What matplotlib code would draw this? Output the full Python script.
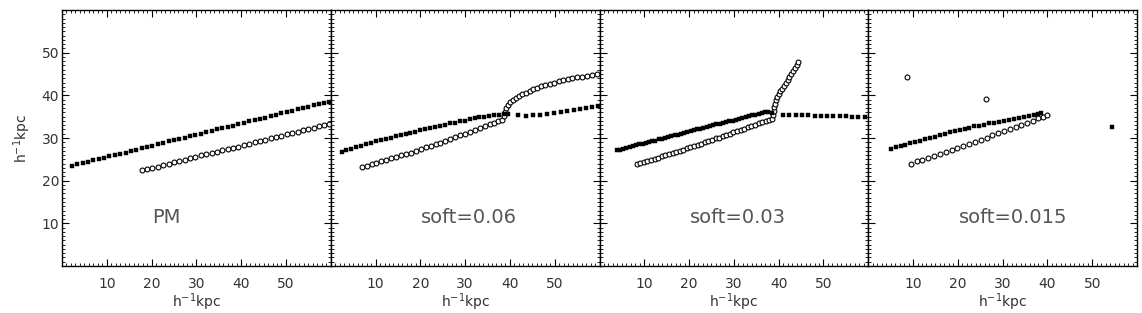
import matplotlib
matplotlib.use("Agg")
import matplotlib.pyplot as plt
from matplotlib.ticker import MultipleLocator, FixedLocator

# ---------------- data ----------------
titles = ["PM", "soft=0.06", "soft=0.03", "soft=0.015"]
xticks = [10, 20, 30, 40, 50]
yticks = [10, 20, 30, 40, 50]

# PM
pm_fx = [2.2, 3.4, 4.6, 5.8, 7.0, 8.2, 9.4, 10.6, 11.8, 13.0, 14.2, 15.4, 16.6, 17.8, 19.0, 20.2,
         21.4, 22.6, 23.8, 25.0, 26.2, 27.4, 28.6, 29.8, 31.0, 32.2, 33.4, 34.6, 35.8, 37.0, 38.2,
         39.4, 40.6, 41.8, 43.0, 44.2, 45.4, 46.6, 47.8, 49.0, 50.2, 51.4, 52.6, 53.8, 55.0, 56.2,
         57.4, 58.6, 59.5]
pm_fy = [23.5, 23.8, 24.1, 24.4, 24.8, 25.1, 25.4, 25.7, 26.0, 26.3, 26.6, 26.9, 27.3, 27.6, 27.9,
         28.2, 28.5, 28.8, 29.2, 29.5, 29.8, 30.1, 30.4, 30.7, 31.0, 31.4, 31.7, 32.0, 32.3, 32.6,
         32.9, 33.2, 33.6, 33.9, 34.2, 34.5, 34.8, 35.1, 35.4, 35.8, 36.1, 36.4, 36.7, 37.0, 37.3,
         37.7, 38.0, 38.3, 38.5]
pm_ox = [17.8, 19.0, 20.2, 21.4, 22.6, 23.8, 25.0, 26.2, 27.4, 28.6, 29.8, 31.0, 32.2, 33.4, 34.6,
         35.8, 37.0, 38.2, 39.4, 40.6, 41.8, 43.0, 44.2, 45.4, 46.6, 47.8, 49.0, 50.2, 51.4, 52.6,
         53.8, 55.0, 56.2, 57.4, 58.6, 59.5]
pm_oy = [22.4, 22.7, 23.0, 23.3, 23.7, 24.0, 24.3, 24.6, 24.9, 25.2, 25.5, 25.9, 26.2, 26.5, 26.8,
         27.1, 27.4, 27.7, 28.0, 28.4, 28.7, 29.0, 29.3, 29.6, 29.9, 30.2, 30.5, 30.9, 31.2, 31.5,
         31.8, 32.1, 32.4, 32.7, 33.0, 33.3]

# soft = 0.06
s06_fx = [2.4, 3.5, 4.6, 5.7, 6.8, 7.9, 9.0, 10.1, 11.2, 12.3, 13.4, 14.5, 15.6, 16.7, 17.8, 18.9,
          20.0, 21.1, 22.2, 23.3, 24.4, 25.5, 26.6, 27.7, 28.8, 29.9, 31.0, 32.1, 33.2, 34.3, 35.4,
          36.5, 37.6, 38.6, 39.5,
          41.9, 43.6, 45.2, 46.8, 48.3, 49.8, 51.3, 52.8, 54.2, 55.6, 57.0, 58.4, 59.7]
s06_fy = [26.7, 27.1, 27.4, 27.8, 28.2, 28.5, 28.9, 29.3, 29.5, 29.8, 30.1, 30.4, 30.7, 30.9, 31.2,
          31.5, 31.8, 32.0, 32.3, 32.6, 32.8, 33.1, 33.4, 33.6, 33.9, 34.1, 34.4, 34.6, 34.9, 35.0,
          35.2, 35.3, 35.5, 35.6, 35.7,
          35.3, 35.2, 35.3, 35.4, 35.6, 35.8, 36.0, 36.3, 36.5, 36.8, 37.0, 37.3, 37.6]
s06_ox = [6.9, 8.0, 9.1, 10.2, 11.3, 12.4, 13.5, 14.6, 15.7, 16.8, 17.9, 19.0, 20.1, 21.2, 22.3,
          23.4, 24.5, 25.6, 26.7, 27.8, 28.9, 30.0, 31.1, 32.2, 33.3, 34.4, 35.5, 36.5, 37.4, 38.2,
          38.6, 38.9, 39.2, 39.6, 40.0, 40.6, 41.3, 42.0, 42.8, 43.6, 44.4, 45.2, 46.1, 47.0, 47.9,
          48.9, 49.9, 50.9, 51.9, 52.9, 53.9, 55.0, 56.1, 57.2, 58.3, 59.4]
s06_oy = [23.1, 23.4, 23.8, 24.1, 24.5, 24.8, 25.2, 25.5, 25.9, 26.2, 26.6, 27.0, 27.4, 27.8, 28.1,
          28.5, 28.9, 29.3, 29.7, 30.2, 30.6, 31.0, 31.4, 31.8, 32.3, 32.7, 33.2, 33.6, 33.9, 34.3,
          35.2, 36.1, 37.0, 37.8, 38.4, 38.9, 39.4, 39.8, 40.2, 40.6, 41.0, 41.4, 41.8, 42.1, 42.4,
          42.7, 43.0, 43.3, 43.6, 43.8, 44.0, 44.2, 44.4, 44.6, 44.8, 44.9]

# soft = 0.03
s03_fx = [3.8, 4.5, 5.2, 6.0, 6.7, 7.4, 8.1, 8.8, 9.6, 10.3, 11.0, 11.7, 12.4, 13.2, 13.9, 14.6,
          15.3, 16.0, 16.8, 17.5, 18.2, 18.9, 19.6, 20.4, 21.1, 21.8, 22.5, 23.2, 24.0, 24.7, 25.4,
          26.1, 26.8, 27.6, 28.3, 29.0, 29.7, 30.4, 31.2, 31.9, 32.6, 33.3, 34.0, 34.8, 35.5, 36.2,
          36.9, 37.6, 38.5,
          41.0, 42.4, 43.8, 45.2, 46.6, 48.0, 49.4, 50.8, 52.2, 53.6, 55.0, 56.4, 57.8, 59.2]
s03_fy = [27.1, 27.3, 27.5, 27.7, 27.9, 28.1, 28.3, 28.5, 28.7, 28.9, 29.1, 29.2, 29.4, 29.7, 29.8,
          30.0, 30.2, 30.4, 30.6, 30.8, 31.0, 31.2, 31.4, 31.6, 31.8, 32.0, 32.2, 32.4, 32.6, 32.8,
          33.0, 33.2, 33.3, 33.6, 33.8, 33.9, 34.1, 34.3, 34.5, 34.7, 34.9, 35.1, 35.3, 35.5, 35.7,
          35.9, 36.1, 36.2, 35.8,
          35.4, 35.4, 35.3, 35.3, 35.3, 35.2, 35.2, 35.2, 35.1, 35.1, 35.1, 35.0, 35.0, 35.0]
s03_ox = [8.3, 9.1, 9.9, 10.7, 11.5, 12.3, 13.1, 13.9, 14.7, 15.5, 16.3, 17.1, 17.9, 18.7, 19.5,
          20.3, 21.1, 21.9, 22.7, 23.5, 24.3, 25.1, 25.9, 26.7, 27.5, 28.3, 29.1, 29.9, 30.7, 31.5,
          32.3, 33.1, 33.9, 34.7, 35.5, 36.3, 37.1, 37.9, 38.5,
          38.8, 38.9, 39.0, 39.1, 39.3, 39.6, 40.0, 40.4, 40.8, 41.2, 41.6, 42.0, 42.4, 42.8, 43.2,
          43.6, 44.0, 44.4]
s03_oy = [23.8, 24.1, 24.3, 24.6, 24.9, 25.1, 25.4, 25.7, 25.9, 26.2, 26.5, 26.8, 27.0, 27.3, 27.6,
          27.9, 28.2, 28.4, 28.7, 29.0, 29.3, 29.6, 29.9, 30.1, 30.4, 30.7, 31.0, 31.3, 31.6, 31.9,
          32.2, 32.5, 32.8, 33.1, 33.4, 33.7, 34.0, 34.3, 34.5,
          35.5, 36.4, 37.2, 38.0, 38.8, 39.5, 40.2, 40.9, 41.6, 42.3, 43.0, 43.6, 44.3, 45.0, 45.7,
          46.4, 47.1, 47.8]

# soft = 0.015
s015_fx = [5.0, 6.1, 7.2, 8.3, 9.4, 10.5, 11.6, 12.7, 13.8, 14.9, 16.0, 17.1, 18.2, 19.3, 20.4,
           21.5, 22.6, 23.7, 24.8, 25.9, 27.0, 28.1, 29.2, 30.3, 31.4, 32.5, 33.6, 34.7, 35.8,
           36.9, 38.0, 38.6, 54.4]
s015_fy = [27.5, 27.8, 28.1, 28.4, 28.8, 29.1, 29.4, 29.7, 30.0, 30.3, 30.6, 30.9, 31.3, 31.6,
           31.9, 32.2, 32.4, 32.7, 32.9, 33.1, 33.4, 33.6, 33.8, 34.0, 34.3, 34.5, 34.7, 35.0,
           35.2, 35.4, 35.6, 35.8, 32.5]
s015_ox = [9.5, 10.8, 12.1, 13.4, 14.7, 16.0, 17.3, 18.6, 19.9, 21.2, 22.5, 23.8, 25.1, 26.4,
           27.7, 29.0, 30.3, 31.6, 32.9, 34.2, 35.5, 36.8, 38.0, 39.0, 39.9, 8.6, 26.3]
s015_oy = [24.0, 24.5, 24.9, 25.4, 25.8, 26.3, 26.8, 27.2, 27.7, 28.1, 28.6, 29.1, 29.6, 30.1,
           30.6, 31.1, 31.6, 32.1, 32.6, 33.1, 33.6, 34.1, 34.6, 35.0, 35.4, 44.2, 39.2]

filled = [(pm_fx, pm_fy), (s06_fx, s06_fy), (s03_fx, s03_fy), (s015_fx, s015_fy)]
opened = [(pm_ox, pm_oy), (s06_ox, s06_oy), (s03_ox, s03_oy), (s015_ox, s015_oy)]

# ---------------- figure ----------------
W, H = 1142, 313
fig = plt.figure(figsize=(W / 100, H / 100), dpi=100)
left_px, right_px, top_px, bot_px = 62, 1137, 10, 266
pw = (right_px - left_px) / 4

txtc = "#333333"
for i in range(4):
    ax = fig.add_axes([(left_px + i * pw) / W, (H - bot_px) / H, pw / W, (bot_px - top_px) / H])
    ax.set_xlim(0, 60)
    ax.set_ylim(0, 60)
    ox, oy = opened[i]
    fx, fy = filled[i]
    ax.plot(ox, oy, linestyle="none", marker="o", markersize=3.5, mfc="white",
            mec="black", mew=0.8, zorder=3)
    ax.plot(fx, fy, linestyle="none", marker="s", markersize=3.4, mfc="black",
            mec="black", mew=0.3, zorder=4)
    ax.xaxis.set_major_locator(FixedLocator(xticks))
    ax.yaxis.set_major_locator(FixedLocator(yticks))
    ax.xaxis.set_minor_locator(MultipleLocator(1))
    ax.yaxis.set_minor_locator(MultipleLocator(1))
    ax.tick_params(which="both", direction="in", top=True, right=True, colors="black",
                   labelcolor=txtc, labelsize=10)
    ax.tick_params(which="major", length=5, width=0.8)
    ax.tick_params(which="minor", length=2.2, width=0.6)
    ax.tick_params(axis="x", which="major", pad=8)
    ax.tick_params(axis="y", which="major", pad=2)
    for s in ax.spines.values():
        s.set_linewidth(1.0)
    ax.set_xlabel("h$^{-1}$kpc", fontsize=10, color=txtc, labelpad=0)
    if i == 0:
        ax.set_ylabel("h$^{-1}$kpc", fontsize=10, color=txtc, labelpad=6)
    else:
        ax.tick_params(axis="y", labelleft=False)
    ax.text(20.2, 11.3, titles[i], fontsize=14, color="#555555", ha="left", va="center")

fig.savefig("out.png", dpi=100)
